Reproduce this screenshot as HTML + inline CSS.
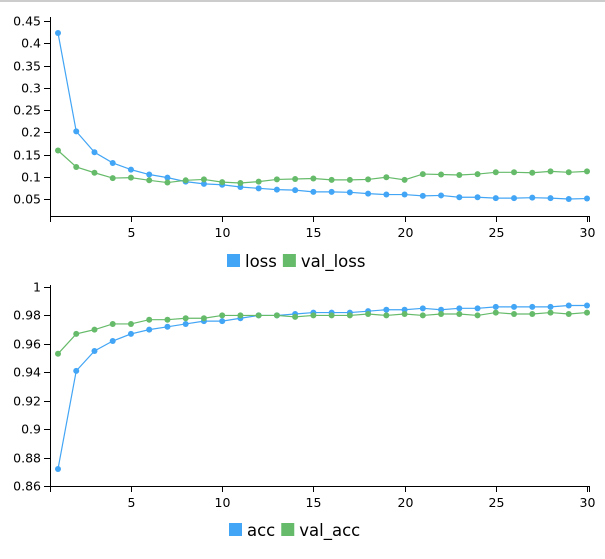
<!DOCTYPE html>
<html><head><meta charset="utf-8"><style>
body{margin:0;background:#fff;width:605px;height:555px;overflow:hidden;font-family:"DejaVu Sans","Liberation Sans",sans-serif}
text{font-family:"DejaVu Sans","Liberation Sans",sans-serif;font-size:12.5px;fill:#000}
</style></head><body>
<svg id="svg" width="605" height="555">
<line x1="0" y1="1" x2="605" y2="1" stroke="#ccc" stroke-width="2"/>
</svg>
<script>
const epochs=[1,2,3,4,5,6,7,8,9,10,11,12,13,14,15,16,17,18,19,20,21,22,23,24,25,26,27,28,29,30];
const loss=[.423,.202,.155,.131,.116,.105,.098,.089,.084,.082,.077,.074,.071,.070,.066,.066,.065,.062,.060,.060,.057,.058,.054,.054,.052,.052,.053,.052,.050,.051];
const valLoss=[.159,.122,.109,.097,.098,.092,.087,.092,.094,.088,.086,.089,.094,.095,.096,.093,.093,.094,.099,.093,.106,.105,.104,.106,.110,.110,.109,.112,.110,.112];
const acc=[.872,.941,.955,.962,.967,.970,.972,.974,.976,.976,.978,.980,.980,.981,.982,.982,.982,.983,.984,.984,.985,.984,.985,.985,.986,.986,.986,.986,.987,.987];
const valAcc=[.953,.967,.970,.974,.974,.977,.977,.978,.978,.980,.980,.980,.980,.979,.980,.980,.980,.981,.980,.981,.980,.981,.981,.980,.982,.981,.981,.982,.981,.982];
const xTicks=[5,10,15,20,25,30];
const lossTicks=[0.05,0.1,0.15,0.2,0.25,0.3,0.35,0.4,0.45];
const accTicks=[0.86,0.88,0.9,0.92,0.94,0.96,0.98,1];
const NS="http://www.w3.org/2000/svg";
const svg=document.getElementById('svg');
function mk(t,a,p){const e=document.createElementNS(NS,t);for(const k in a)e.setAttribute(k,a[k]);(p||svg).appendChild(e);return e;}
function chart(cfg){
  const g=mk('g',{});
  
  
  const x=v=>58+(v-1)*(587-58)/29;
  const y=v=>cfg.yTop+(cfg.yMax-v)/(cfg.yMax-cfg.yMin)*(cfg.yBot-cfg.yTop);
  const ax=cfg.yAxisTop;
  const yl=mk('line',{x1:50.5,y1:ax,x2:50.5,y2:cfg.axisY,stroke:'#000'},g);
  
  const xl=mk('line',{x1:50,y1:cfg.axisY+0.5,x2:x(30)+3,y2:cfg.axisY+0.5,stroke:'#000'},g);
  
  mk('line',{x1:50.5,y1:cfg.axisY,x2:50.5,y2:cfg.axisY+6,stroke:'#000'},g);
  mk('line',{x1:x(30)+2.5,y1:cfg.axisY,x2:x(30)+2.5,y2:cfg.axisY+6,stroke:'#000'},g);
  cfg.ticks.forEach(t=>{const yy=Math.round(y(t))+0.5;
    mk('line',{x1:44,y1:yy,x2:50,y2:yy,stroke:'#000'},g);
    const tx=mk('text',{x:41,y:yy+4,'text-anchor':'end'},g);tx.textContent=String(t);
    });
  xTicks.forEach(t=>{const xx=Math.round(x(t))+0.5;
    mk('line',{x1:xx,y1:cfg.axisY,x2:xx,y2:cfg.axisY+6,stroke:'#000'},g);
    const tx=mk('text',{x:xx,y:cfg.axisY+21,'text-anchor':'middle'},g);tx.textContent=String(t);
    });
  cfg.series.forEach(s=>{
    const pl=mk('polyline',{points:s.d.map((v,i)=>x(epochs[i])+','+y(v)).join(' '),fill:'none',stroke:s.c,'stroke-width':1.2},g);
    
    s.d.forEach((v,i)=>{const c=mk('circle',{cx:x(epochs[i]),cy:y(v),r:3,fill:s.c},g);
      });
  });
  let lx=cfg.legX;
  cfg.series.forEach(s=>{
    const r=mk('rect',{x:lx,y:cfg.legY-13,width:13,height:13,fill:s.c},g);
    
    const t=mk('text',{x:lx+18,y:cfg.legY,style:'font-size:16.5px'},g);t.textContent=s.n;
    
    lx+=18+t.getComputedTextLength()+6;
  });
}
chart({name:'loss-chart',yMin:0.05,yMax:0.45,yTop:21,yBot:199,axisY:216,yAxisTop:17,ticks:lossTicks,legX:227,legY:267,
  series:[{n:'loss',d:loss,c:'#42a5f5'},{n:'val_loss',d:valLoss,c:'#66bb6a'}]});
chart({name:'accuracy-chart',yMin:0.86,yMax:1,yTop:287,yBot:486,axisY:486,yAxisTop:285,ticks:accTicks,legX:229,legY:536,
  series:[{n:'acc',d:acc,c:'#42a5f5'},{n:'val_acc',d:valAcc,c:'#66bb6a'}]});
</script>
</body></html>
